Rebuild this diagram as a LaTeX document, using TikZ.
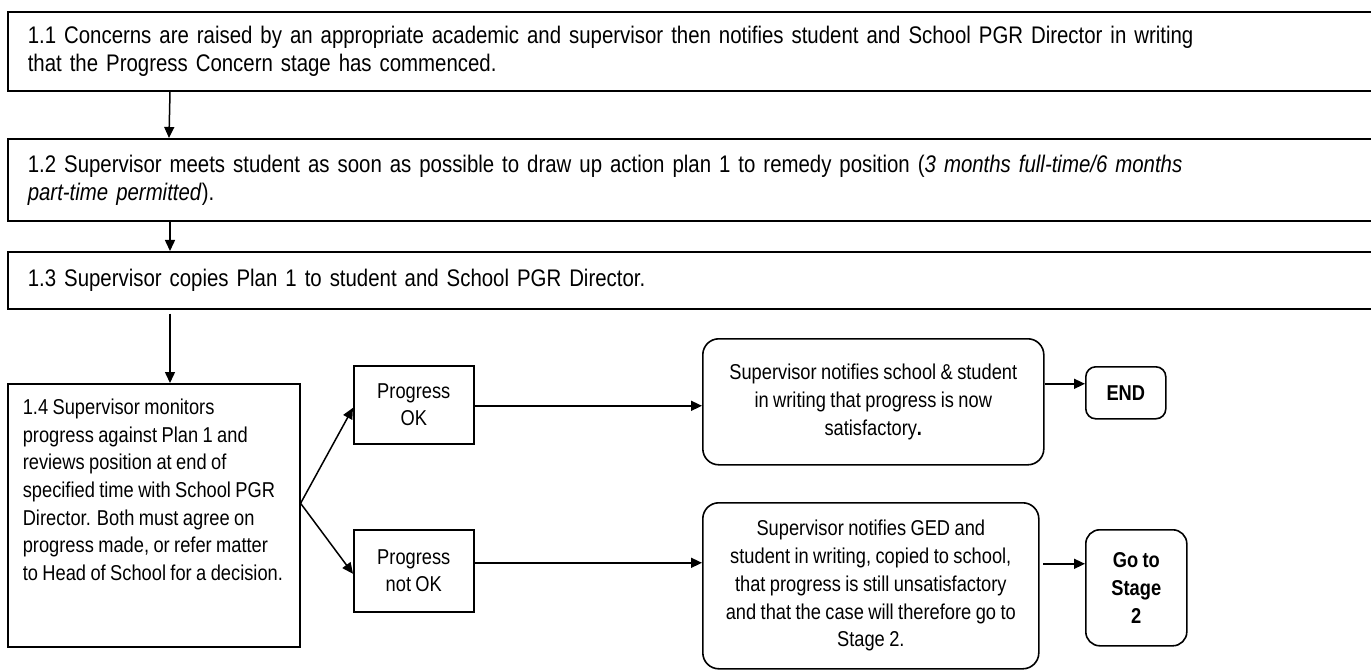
\documentclass[tikz,border=0pt]{standalone}
\usepackage{fontspec}
\setmainfont[FakeStretch=0.85,WordSpace=0.87]{Liberation Sans}
\usetikzlibrary{arrows.meta,calc}
\newcommand{\bigtxt}{\fontsize{24}{28}\selectfont}
\newcommand{\smtxt}{\fontsize{21.5}{27.7}\selectfont}
\begin{document}
\begin{tikzpicture}[x=1pt,y=-1pt,
  font=\smtxt,
  box/.style={draw,line width=1.6pt,rectangle,inner sep=0pt,anchor=north west},
  wide/.style={box,minimum width=1380pt,text width=1340pt,align=left,inner xsep=15pt,font=\bigtxt},
  rbox/.style={draw,line width=1.6pt,rounded corners=16pt,inner sep=0pt,anchor=north west,align=center},
  arr/.style={line width=1.5pt,-{Triangle[length=11pt,width=10pt]}}]
\useasboundingbox (0,0) rectangle (1371,671);
% top wide boxes (run past the right edge)
\node[wide,minimum height=79pt] (b1) at (7,11)
  {1.1 Concerns are raised by an appropriate academic and supervisor then notifies student and School PGR Director in writing\\that the Progress Concern stage has commenced.};
\node[wide,minimum height=82pt] (b2) at (7,138)
  {1.2 Supervisor meets student as soon as possible to draw up action plan 1 to remedy position (\textit{3 months full-time/6 months}\\\textit{part-time permitted}).};
\node[wide,minimum height=57pt] (b3) at (7,251)
  {1.3 Supervisor copies Plan 1 to student and School PGR Director.};
\node[box,minimum width=292pt,minimum height=263pt,inner xsep=15pt] (b4) at (7,383)
  {\parbox[c][233pt][t]{262pt}{\raggedright\hbadness=10000 \mbox{1.4 Supervisor monitors}\\\mbox{progress against Plan 1 and}\\\mbox{reviews position at end of}\\\mbox{specified time with School PGR}\\\mbox{Director. Both must agree on}\\\mbox{progress made, or refer matter}\\\mbox{to Head of School for a decision.}}};
% decision boxes
\node[box,minimum width=120pt,minimum height=78pt,align=center] (ok) at (353,365) {Progress\\OK};
\node[box,minimum width=120pt,minimum height=82pt,align=center] (nok) at (353,529) {Progress\\not OK};
% outcome boxes
\node[rbox,minimum width=341pt,minimum height=126pt] (n1) at (702,338)
  {Supervisor notifies school \& student\\in writing that progress is now\\satisfactory{\bfseries .}};
\node[rbox,rounded corners=10pt,minimum width=80pt,minimum height=52pt,font=\smtxt\bfseries] (end) at (1085,366) {END};
\node[rbox,minimum width=336pt,minimum height=166pt] (n2) at (702,502)
  {Supervisor notifies GED and\\student in writing, copied to school,\\that progress is still unsatisfactory\\and that the case will therefore go to\\Stage 2.};
\node[rbox,rounded corners=14pt,minimum width=101pt,minimum height=116pt,font=\smtxt\bfseries] (go) at (1085,529) {Go to\\Stage\\2};
% connectors
\draw[arr] ([xshift=163pt]b1.south west) -- ([xshift=162pt]b2.north west);
\draw[arr] ([xshift=163pt]b2.south west) -- ([xshift=163pt]b3.north west);
\draw[arr] ([xshift=163pt,yshift=-4pt]b3.south west) -- ([xshift=163pt]b4.north west);
\draw[arr] ([yshift=12pt]b4.east) -- ([yshift=-3pt]ok.west);
\draw[arr] ([yshift=12pt]b4.east) -- ([yshift=-3pt]nok.west);
\draw[arr] ([yshift=-1pt]ok.east) -- ([yshift=-1pt]ok.east -| n1.west);
\draw[arr] ([yshift=9pt]end.west -| n1.east) -- ([yshift=9pt]end.west);
\draw[arr] ([yshift=8pt]nok.east) -- ([yshift=8pt]nok.east -| n2.west);
\draw[arr] ([yshift=24pt,xshift=-42pt]go.west) -- ([yshift=24pt]go.west);
\end{tikzpicture}
\end{document}
